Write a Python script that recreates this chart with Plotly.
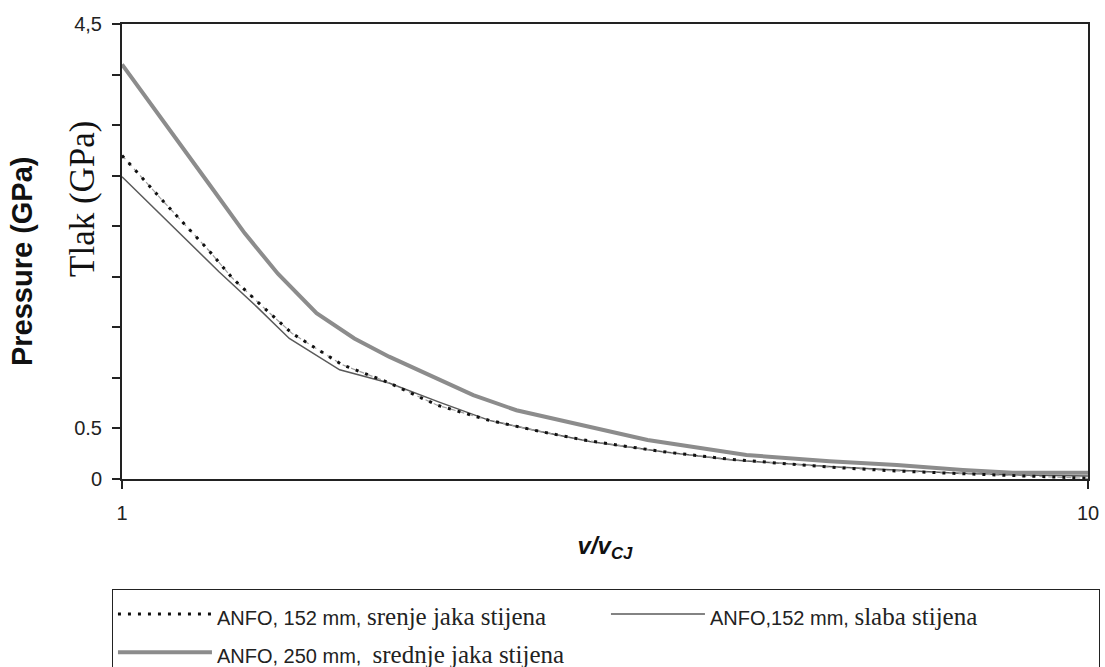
import plotly.graph_objects as go

# ---- data ----
x_250_srednje = [1.00, 1.10, 1.23, 1.34, 1.45, 1.59, 1.74, 1.89, 2.08, 2.31, 2.56, 3.05, 3.50, 4.43, 5.40, 6.34, 7.42, 8.36, 10.0]
y_250_srednje = [4.10, 3.55, 2.92, 2.43, 2.03, 1.64, 1.39, 1.21, 1.03, 0.83, 0.68, 0.51, 0.385, 0.237, 0.175, 0.138, 0.089, 0.062, 0.062]

x_152_slaba = [1.00, 1.14, 1.26, 1.38, 1.49, 1.68, 1.89, 2.13, 2.40, 2.71, 3.05, 3.63, 4.26, 5.44, 6.24, 7.25, 8.50, 10.0]
y_152_slaba = [2.99, 2.46, 2.05, 1.70, 1.39, 1.08, 0.95, 0.76, 0.58, 0.47, 0.37, 0.27, 0.19, 0.12, 0.09, 0.06, 0.04, 0.03]

x_152_srednje = [1.00, 1.10, 1.23, 1.30, 1.40, 1.50, 1.69, 1.88, 2.12, 2.40, 2.71, 3.03, 3.63, 4.26, 5.44, 6.24, 7.25, 8.50, 10.0]
y_152_srednje = [3.20, 2.76, 2.26, 1.99, 1.70, 1.44, 1.13, 0.96, 0.73, 0.58, 0.47, 0.38, 0.27, 0.195, 0.115, 0.082, 0.056, 0.033, 0.007]

y_tick_vals = [0, 0.5, 1.0, 1.5, 2.0, 2.5, 3.0, 3.5, 4.0, 4.5]
y_tick_text = ["0", "0.5", " ", " ", " ", " ", " ", " ", " ", "4,5"]
x_tick_vals = [1, 10]
x_tick_text = ["1", "10"]

SANS = "Liberation Sans, Arial, sans-serif"
SERIF = "Liberation Serif, Times New Roman, serif"


def legend_label(sans_part, serif_part):
    # legend base font is serif; the sans part switches family, then size
    return ('<span style="font-family:Arial"><span style="font-size:20px">' + sans_part + '</span></span>'
            '<span style="font-size:25px">' + serif_part + '</span>')


name_152_srednje = legend_label("ANFO, 152 mm, ", "srenje jaka stijena")
name_152_slaba = legend_label("ANFO,152 mm, ", "slaba stijena")
name_250_srednje = legend_label("ANFO, 250 mm,  ", "srednje jaka stijena")

fig = go.Figure()

fig.add_trace(go.Scatter(
    x=x_152_slaba, y=y_152_slaba, mode="lines", name=name_152_slaba,
    line=dict(color="#5a5a5a", width=1.5), legendrank=2))

fig.add_trace(go.Scatter(
    x=x_250_srednje, y=y_250_srednje, mode="lines", name=name_250_srednje,
    line=dict(color="#8c8c8c", width=4), legendrank=3))

fig.add_trace(go.Scatter(
    x=x_152_srednje, y=y_152_srednje, mode="lines", showlegend=False,
    line=dict(color="#a0a0a0", width=1.2, dash="5px,4px"), hoverinfo="skip"))

fig.add_trace(go.Scatter(
    x=x_152_srednje, y=y_152_srednje, mode="lines", name=name_152_srednje,
    line=dict(color="#111111", width=3, dash="3px,7px"), legendrank=1))

fig.update_layout(
    width=1105, height=667,
    margin=dict(l=122, r=17, t=24, b=188, autoexpand=False),
    paper_bgcolor="white", plot_bgcolor="white",
    font=dict(family=SANS, color="#222222", size=20),
    showlegend=True,
    legend=dict(
        orientation="h", x=-0.0104, xanchor="left", y=-0.2418, yanchor="top",
        bordercolor="#222222", borderwidth=1, bgcolor="white",
        font=dict(family=SERIF, size=27, color="#222222"),
        itemwidth=94, entrywidth=384, entrywidthmode="pixels",
        traceorder="normal",
    ),
    xaxis=dict(
        type="log", range=[0, 1], tickvals=x_tick_vals, ticktext=x_tick_text,
        ticks="outside", ticklen=8, tickwidth=1.5, tickcolor="#222222",
        showline=True, linecolor="#222222", linewidth=2, mirror=True,
        showgrid=False, zeroline=False, ticklabelstandoff=7,
        tickfont=dict(family=SANS, size=20, color="#222222"),
        title=dict(text="<b><i>v/v<sub>CJ</sub></i></b>", standoff=14,
                   font=dict(family=SANS, size=24, color="#111111")),
    ),
    yaxis=dict(
        range=[0, 4.5], tickvals=y_tick_vals, ticktext=y_tick_text,
        ticks="outside", ticklen=8, tickwidth=1.5, tickcolor="#222222",
        showline=True, linecolor="#222222", linewidth=2, mirror=True,
        showgrid=False, zeroline=False, ticklabelstandoff=6,
        tickfont=dict(family=SANS, size=20, color="#222222"),
    ),
    annotations=[
        dict(text="<b>Pressure (GPa)</b>", xref="paper", yref="paper",
             x=-0.1035, y=0.479, xanchor="center", yanchor="middle",
             textangle=-90, showarrow=False,
             font=dict(family=SANS, size=29, color="#111111")),
        dict(text="Tlak (GPa)", xref="paper", yref="paper",
             x=-0.0404, y=0.6154, xanchor="center", yanchor="middle",
             textangle=-90, showarrow=False,
             font=dict(family=SERIF, size=35, color="#111111")),
    ],
)

fig.write_html(
    "out.html",
    config={"displayModeBar": False},
    post_script="document.body.style.margin='0';document.documentElement.style.overflow='hidden';",
)
